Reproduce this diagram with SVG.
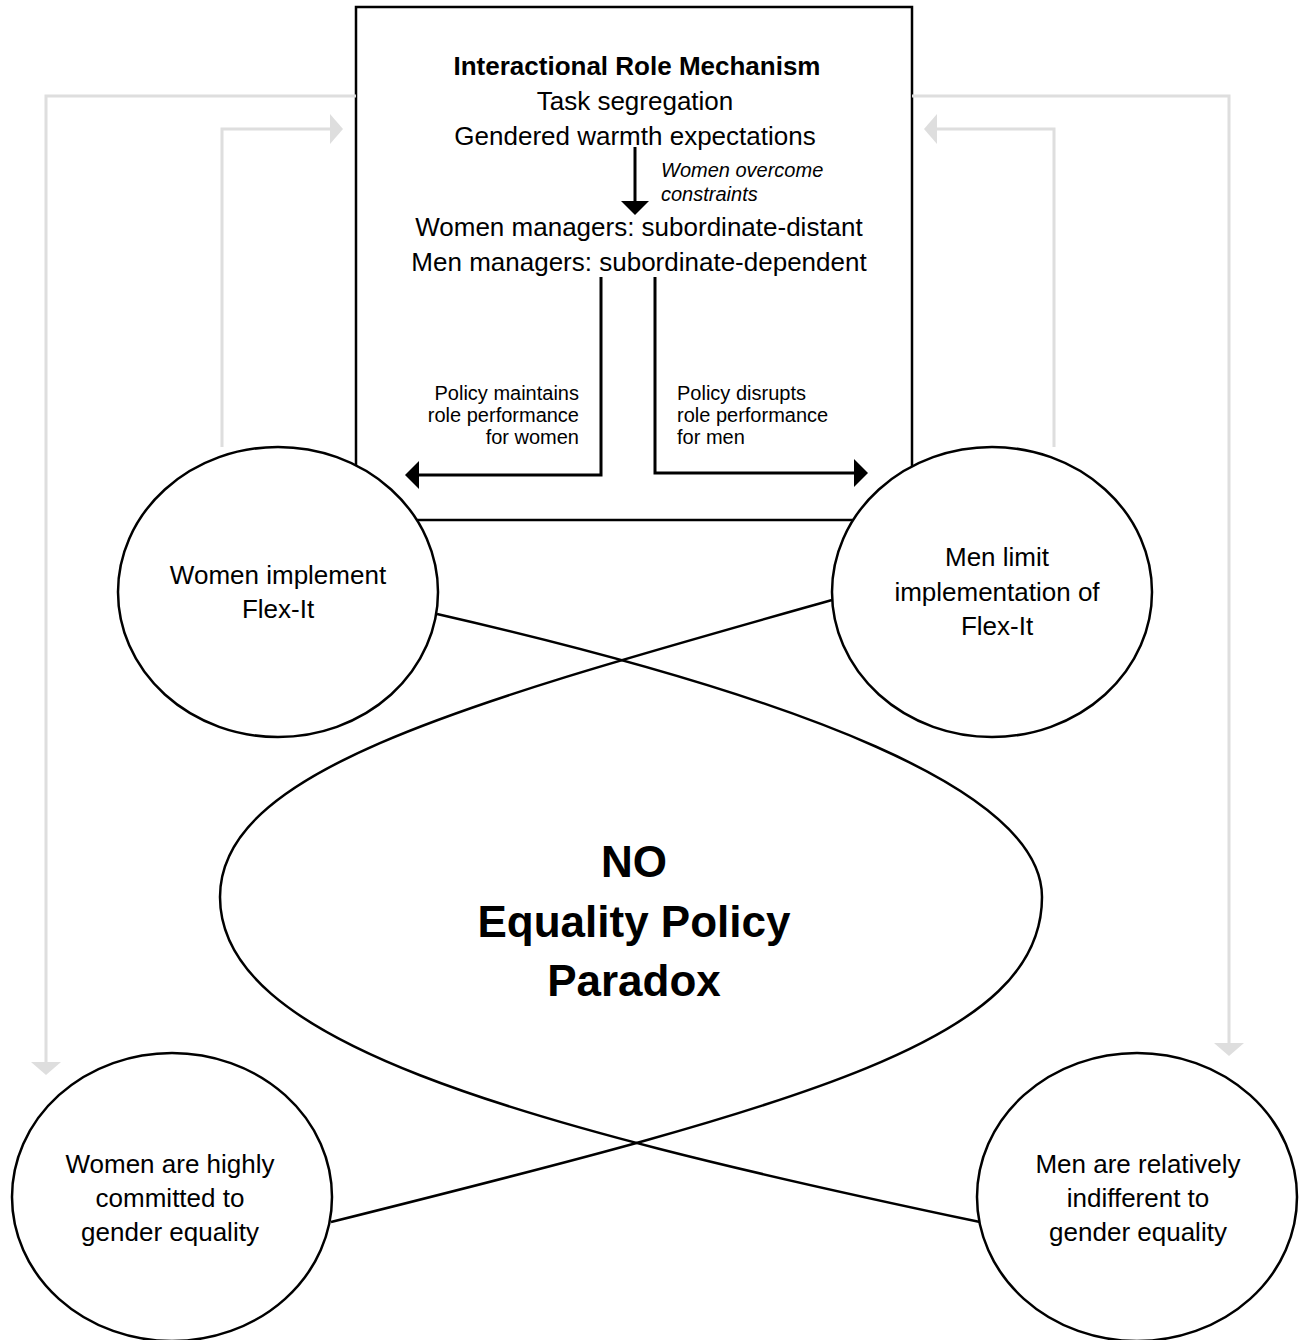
<svg xmlns="http://www.w3.org/2000/svg" width="1304" height="1340" viewBox="0 0 1304 1340">
<style>
text{font-family:"Liberation Sans",Arial,sans-serif;fill:#000}
.t26{font-size:26px;text-anchor:middle}
.b26{font-size:26px;font-weight:bold;text-anchor:middle}
.s20{font-size:20px}
.big{font-size:44px;font-weight:bold;text-anchor:middle}
.node{fill:#fff;stroke:#000;stroke-width:2.5}
.blk{fill:none;stroke:#000;stroke-width:3}
.gry{fill:none;stroke:#dedede;stroke-width:3}
.curve{fill:none;stroke:#000;stroke-width:2.5}
</style>
<defs>
<marker id="ab" markerUnits="userSpaceOnUse" markerWidth="16" markerHeight="30" refX="10" refY="14" orient="auto" viewBox="0 0 16 28">
<path d="M0,0 L14,14 L0,28 Z" fill="#000"/>
</marker>
<marker id="ag" markerUnits="userSpaceOnUse" markerWidth="16" markerHeight="32" refX="9" refY="15" orient="auto" viewBox="0 0 16 30">
<path d="M0,0 L13,15 L0,30 Z" fill="#dedede"/>
</marker>
</defs>

<g id="mechanism">
<rect x="356" y="7" width="556" height="513" fill="#fff" stroke="#000" stroke-width="2.5"/>
<text class="b26" x="637" y="75">Interactional Role Mechanism</text>
<text class="t26" x="635" y="110">Task segregation</text>
<text class="t26" x="635" y="145">Gendered warmth expectations</text>
<text class="s20" x="661" y="177" font-style="italic">Women overcome</text>
<text class="s20" x="661" y="201" font-style="italic">constraints</text>
<text class="t26" x="639" y="236">Women managers: subordinate-distant</text>
<text class="t26" x="639" y="271">Men managers: subordinate-dependent</text>
<text class="s20" x="579" y="400" text-anchor="end">Policy maintains</text>
<text class="s20" x="579" y="422" text-anchor="end">role performance</text>
<text class="s20" x="579" y="444" text-anchor="end">for women</text>
<text class="s20" x="677" y="400">Policy disrupts</text>
<text class="s20" x="677" y="422">role performance</text>
<text class="s20" x="677" y="444">for men</text>
</g>

<g id="connectors">
<path class="gry" d="M356,96 H46 V1071" marker-end="url(#ag)"/>
<path class="gry" d="M222,447 V129 H339" marker-end="url(#ag)"/>
<path class="gry" d="M1054,447 V129 H928" marker-end="url(#ag)"/>
<path class="gry" d="M912,96 H1229 V1052" marker-end="url(#ag)"/>
<path class="blk" d="M635,147 V211" marker-end="url(#ab)"/>
<path class="blk" d="M601,277 V475 H409" marker-end="url(#ab)"/>
<path class="blk" d="M655,277 V473 H864" marker-end="url(#ab)"/>
<path class="curve" d="M437,614 C800,697 1042,790 1042,897 C1042,1040 811,1102 331,1222"/>
<path class="curve" d="M832,600 C460,705 220,770 220,897 C220,1040 500,1121 980,1222"/>
</g>

<g id="paradox">
<text class="big" x="634" y="877">NO</text>
<text class="big" x="634" y="937">Equality Policy</text>
<text class="big" x="634" y="996">Paradox</text>
</g>

<g id="women-implement">
<ellipse class="node" cx="278" cy="592" rx="160" ry="145"/>
<text class="t26" x="278" y="584">Women implement</text>
<text class="t26" x="278" y="618">Flex-It</text>
</g>

<g id="men-limit">
<ellipse class="node" cx="992" cy="592" rx="160" ry="145"/>
<text class="t26" x="997" y="566">Men limit</text>
<text class="t26" x="997" y="601">implementation of</text>
<text class="t26" x="997" y="635">Flex-It</text>
</g>

<g id="women-committed">
<ellipse class="node" cx="172" cy="1197" rx="160" ry="144"/>
<text class="t26" x="170" y="1173">Women are highly</text>
<text class="t26" x="170" y="1207">committed to</text>
<text class="t26" x="170" y="1241">gender equality</text>
</g>

<g id="men-indifferent">
<ellipse class="node" cx="1137" cy="1197" rx="160" ry="144"/>
<text class="t26" x="1138" y="1173">Men are relatively</text>
<text class="t26" x="1138" y="1207">indifferent to</text>
<text class="t26" x="1138" y="1241">gender equality</text>
</g>
</svg>
